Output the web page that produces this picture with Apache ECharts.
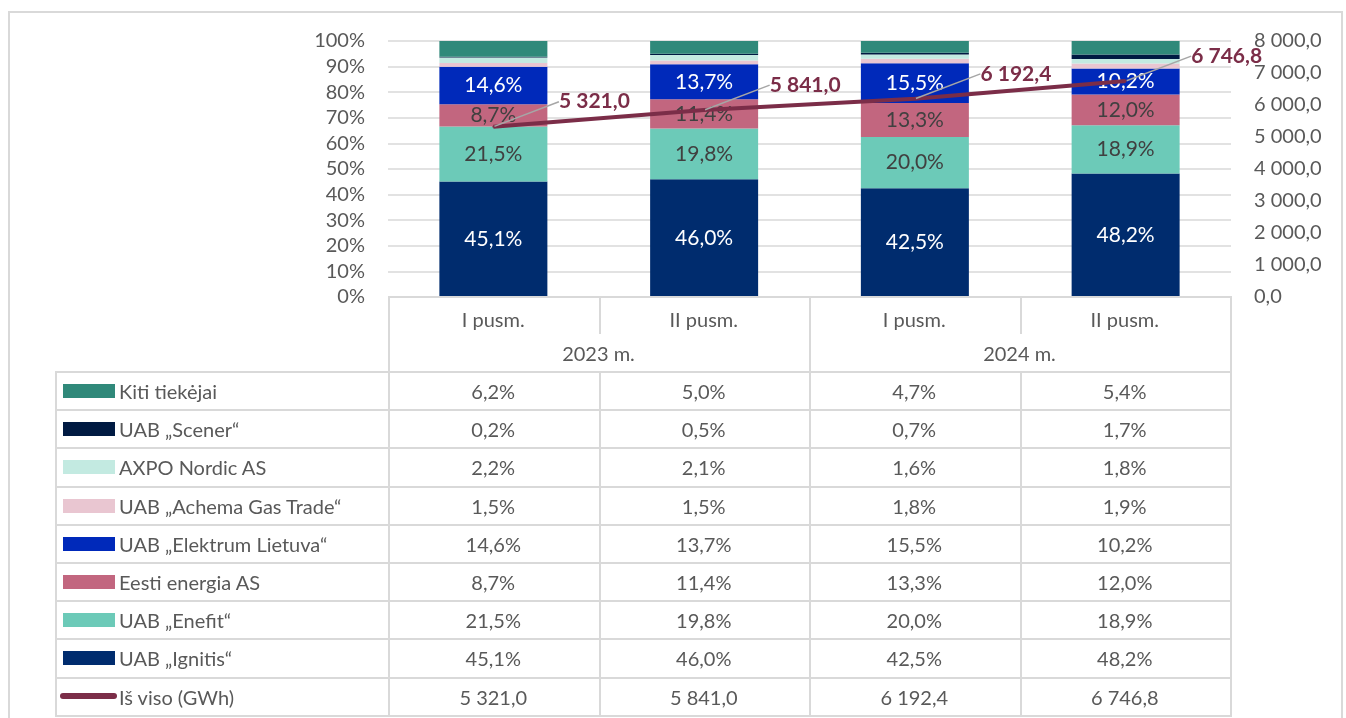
<!DOCTYPE html>
<html>
<head>
<meta charset="utf-8">
<script src="https://cdn.jsdelivr.net/npm/echarts@6/dist/echarts.min.js"></script>
<style>
  html, body { margin: 0; padding: 0; background: #fff; }
  #wrap { position: relative; width: 1346px; height: 718px; overflow: hidden; font-family: Lato, "Open Sans", sans-serif; color: #595959; }
  #frame { position: absolute; left: 8px; top: 11px; width: 1335px; height: 740px; border: 2px solid #D9D9D9; box-sizing: border-box; }
  #chart { position: absolute; left: 0; top: 0; width: 1346px; height: 718px; }
  #table { position: absolute; left: 0; top: 0; width: 1346px; height: 718px; pointer-events: none; }
  .ln { position: absolute; background: #D9D9D9; }
  .tx { position: absolute; font-size: 20px; line-height: 38px; white-space: nowrap; }
  .key { position: absolute; }
</style>
</head>
<body>
<div id="wrap">
  <div id="frame"></div>
  <div id="chart"></div>
  <div id="table"></div>
</div>
<script>
// duomenys
const periods = ['I pusm.', 'II pusm.', 'I pusm.', 'II pusm.']
const years = ['2023 m.', '2024 m.']
const kiti = [6.2, 5.0, 4.7, 5.4]
const scener = [0.2, 0.5, 0.7, 1.7]
const axpo = [2.2, 2.1, 1.6, 1.8]
const achema = [1.5, 1.5, 1.8, 1.9]
const elektrum = [14.6, 13.7, 15.5, 10.2]
const eesti = [8.7, 11.4, 13.3, 12.0]
const enefit = [21.5, 19.8, 20.0, 18.9]
const ignitis = [45.1, 46.0, 42.5, 48.2]
const total = [5321.0, 5841.0, 6192.4, 6746.8]

const fmtPct = v => v.toFixed(1).replace('.', ',') + '%'
const fmtNum = v => {
  const [i, d] = Number(v).toFixed(1).split('.')
  return i.replace(/\B(?=(\d{3})+(?!\d))/g, ' ') + ',' + d
}

// eilutės nuo apačios į viršų (stack tvarka)
const suppliers = [
  { name: 'UAB „Ignitis“', data: ignitis, color: '#002C6E', label: '#FFFFFF' },
  { name: 'UAB „Enefit“', data: enefit, color: '#6CCAB8', label: '#404040' },
  { name: 'Eesti energia AS', data: eesti, color: '#C2667F', label: '#404040' },
  { name: 'UAB „Elektrum Lietuva“', data: elektrum, color: '#0029BA', label: '#FFFFFF' },
  { name: 'UAB „Achema Gas Trade“', data: achema, color: '#E9C6D1', label: null },
  { name: 'AXPO Nordic AS', data: axpo, color: '#C3EAE1', label: null },
  { name: 'UAB „Scener“', data: scener, color: '#001A42', label: null },
  { name: 'Kiti tiekėjai', data: kiti, color: '#30897A', label: null }
]
const lineColor = '#7B2D48'

const chart = echarts.init(document.getElementById('chart'))

const barSeries = suppliers.map(s => ({
  name: s.name,
  type: 'bar',
  stack: 'share',
  barWidth: 108,
  data: s.data,
  itemStyle: { color: s.color },
  label: {
    show: !!s.label,
    position: 'inside',
    color: s.label || '#404040',
    fontFamily: 'Lato',
    fontSize: 21,
    formatter: p => fmtPct(p.value)
  }
}))

chart.setOption({
  animation: false,
  grid: { left: 388, right: 115, top: 41, bottom: 421 },
  xAxis: {
    type: 'category',
    data: periods,
    axisLine: { show: false },
    axisTick: { show: false },
    axisLabel: { show: false }
  },
  yAxis: [
    {
      type: 'value', min: 0, max: 100, interval: 10,
      axisLabel: { formatter: '{value}%', color: '#595959', fontFamily: 'Lato', fontSize: 20, margin: 23 },
      splitLine: { lineStyle: { color: '#D9D9D9', width: 1.5 } }
    },
    {
      type: 'value', min: 0, max: 8000, interval: 1000,
      axisLabel: { formatter: v => fmtNum(v), color: '#595959', fontFamily: 'Lato', fontSize: 20, margin: 23 },
      splitLine: { show: false }
    }
  ],
  series: [
    ...barSeries,
    {
      name: 'Iš viso (GWh)',
      type: 'line',
      yAxisIndex: 1,
      data: total,
      symbol: 'circle',
      symbolSize: 2,
      itemStyle: { color: lineColor },
      lineStyle: { color: lineColor, width: 4 },
      z: 5,
      label: {
        show: true,
        position: 'inside',
        color: lineColor,
        fontFamily: 'Lato',
        fontWeight: 'bold',
        fontSize: 21,
        formatter: p => fmtNum(p.value)
      },
      labelLayout: { dx: 101, dy: -25 },
      labelLine: { show: true, lineStyle: { color: '#A6A6A6', width: 1.5 } }
    }
  ]
})

// duomenų lentelė po diagrama
const tbl = document.getElementById('table')
const colX = [388, 598.5, 809, 1019.5, 1230]
const tableLeft = 55
const headTop = 296
const rowsTop = 371
const rowH = 38.2

function ln(x, y, w, h) {
  const d = document.createElement('div')
  d.className = 'ln'
  d.style.cssText = `left:${x}px;top:${y}px;width:${w}px;height:${h}px`
  tbl.appendChild(d)
}
function tx(x, y, w, str, align) {
  const d = document.createElement('div')
  d.className = 'tx'
  d.style.cssText = `left:${x}px;top:${y}px;width:${w}px;text-align:${align || 'center'}`
  d.textContent = str
  tbl.appendChild(d)
}

const rows = suppliers.slice().reverse()
const nRows = rows.length + 1
const tableBottom = rowsTop + nRows * rowH

// antraštė
ln(colX[0], headTop, colX[4] - colX[0] + 2, 2)
periods.forEach((p, i) => tx(colX[i], headTop + 4, colX[i + 1] - colX[i], p))
years.forEach((y, i) => tx(colX[i * 2], headTop + 38, colX[i * 2 + 2] - colX[i * 2], y))
ln(colX[1], headTop, 2, 38)
ln(colX[3], headTop, 2, 38)
ln(colX[2], headTop, 2, tableBottom - headTop)
ln(colX[0], headTop, 2, tableBottom - headTop)
ln(colX[4], headTop, 2, tableBottom - headTop)
ln(colX[1], rowsTop, 2, tableBottom - rowsTop)
ln(colX[3], rowsTop, 2, tableBottom - rowsTop)
ln(tableLeft, rowsTop, 2, tableBottom - rowsTop)

for (let r = 0; r <= nRows; r++) ln(tableLeft, rowsTop + r * rowH, colX[4] - tableLeft + 2, 2)

rows.forEach((s, r) => {
  const y = rowsTop + r * rowH
  const k = document.createElement('div')
  k.className = 'key'
  k.style.cssText = `left:63px;top:${y + 13}px;width:52px;height:14px;background:${s.color}`
  tbl.appendChild(k)
  tx(119, y + 1, 265, s.name, 'left')
  s.data.forEach((v, i) => tx(colX[i], y + 1, colX[i + 1] - colX[i], fmtPct(v)))
})
{
  const y = rowsTop + rows.length * rowH
  const k = document.createElement('div')
  k.className = 'key'
  k.style.cssText = `left:60px;top:${y + 16}px;width:57px;height:6px;border-radius:3px;background:${lineColor}`
  tbl.appendChild(k)
  tx(119, y + 1, 265, 'Iš viso (GWh)', 'left')
  total.forEach((v, i) => tx(colX[i], y + 1, colX[i + 1] - colX[i], fmtNum(v)))
}
</script>
</body>
</html>
